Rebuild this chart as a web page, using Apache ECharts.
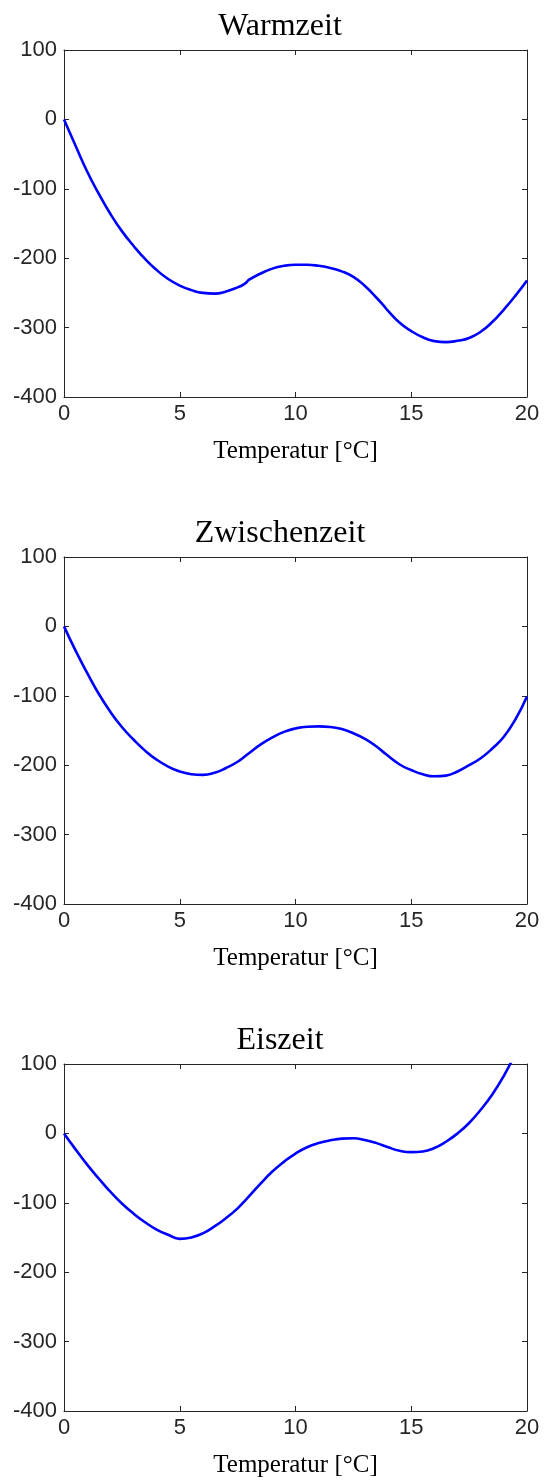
<!DOCTYPE html>
<html>
<head>
<meta charset="utf-8">
<script src="https://cdn.jsdelivr.net/npm/echarts@6/dist/echarts.min.js"></script>
<style>html,body{margin:0;padding:0;background:#fff;}#c{width:544px;height:1480px;}</style>
</head>
<body>
<div id="c"></div>
<script>
const titles = ['Warmzeit', 'Zwischenzeit', 'Eiszeit'];
const xLabel = 'Temperatur [°C]';
const xTicks = [0, 5, 10, 15, 20];
const yTicks = [-400, -300, -200, -100, 0, 100];

const tempWarm = [0,0.5,1,1.5,2,2.5,3,3.5,4,4.5,5,5.5,6,6.5,7,7.5,7.8,8,8.5,9,9.5,10,10.5,11,11.5,12,12.5,13,13.5,13.8,14,14.5,15,15.5,16,16.5,17,17.5,18,18.5,19,19.5,20];
const warm = [0,-38,-75,-107,-136,-161,-182,-201,-217,-230,-239.5,-246,-250,-251,-248,-242,-237,-231,-222,-215,-211,-209.5,-209.5,-211,-214,-219,-227,-240,-257,-268,-276,-293,-305,-314,-319.5,-321,-319,-315,-306,-292,-274,-254,-232];

const tempZwischen = [0,0.5,1,1.5,2,2.5,3,3.5,4,4.5,5,5.5,6,6.5,7,7.5,7.9,8.5,9,9.5,10,10.5,11,11.5,12,12.5,13,13.5,13.9,14.5,15,15.5,16,16.5,17,17.5,18,18.5,19,19.5,20];
const zwischen = [0,-35,-67,-97,-123,-145,-163,-179,-192,-202,-209,-213,-214,-211,-204,-195,-185,-170,-160,-152,-147,-144.5,-144,-145,-148,-154,-162,-173,-184,-199,-207,-213,-216,-215,-209,-200,-190,-176,-159,-134,-101];

const tempEis = [0,0.5,1,1.5,2,2.5,3,3.5,4,4.5,5,5.5,6,6.5,7,7.5,7.9,8.5,9,9.5,10,10.5,11,11.5,12,12.5,13,13.5,14,14.5,15,15.5,16,16.5,17,17.5,18,18.5,19,19.5,20];
const eis = [0,-23,-45,-65,-84,-101,-115.5,-128,-138.5,-146,-152,-150,-144,-134,-122,-108,-94,-72,-55,-41,-29,-20,-14,-10,-7.5,-7,-9.5,-14,-20,-25,-27,-26,-21,-12,0,15,34,56,83,115,148];

const temps = [tempWarm, tempZwischen, tempEis];
const vals = [warm, zwischen, eis];

const tops = [50, 557, 1064];
const gridH = 347;
const axisColor = '#262626';
const sansFont = '"Liberation Sans", Arial, Helvetica, sans-serif';
const serifFont = '"Liberation Serif", "Times New Roman", serif';

const grids = [], xAxes = [], yAxes = [], series = [], titleOpts = [];
tops.forEach((t, i) => {
  grids.push({left: 64, top: t, width: 463, height: gridH, show: false});
  titleOpts.push({
    text: titles[i], left: 275, top: t - 44, textAlign: 'center',
    textStyle: {fontFamily: serifFont, fontSize: 32, fontWeight: 'normal', color: '#000'}
  });
  const baseX = {
    type: 'value', gridIndex: i, min: xTicks[0], max: xTicks[xTicks.length-1], interval: 5,
    axisLine: {show: true, onZero: false, lineStyle: {color: axisColor, width: 1}},
    axisTick: {show: true, inside: true, length: 5, lineStyle: {color: axisColor}},
    splitLine: {show: false}
  };
  xAxes.push(Object.assign({}, baseX, {
    position: 'bottom',
    axisLabel: {show: true, color: axisColor, fontFamily: sansFont, fontSize: 22, margin: 6},
    name: xLabel, nameLocation: 'middle', nameGap: 42,
    nameTextStyle: {fontFamily: serifFont, fontSize: 25, color: '#000'}
  }));
  xAxes.push(Object.assign({}, baseX, {position: 'top', axisLabel: {show: false}}));
  const baseY = {
    type: 'value', gridIndex: i, min: yTicks[0], max: yTicks[yTicks.length-1], interval: 100,
    axisLine: {show: true, onZero: false, lineStyle: {color: axisColor, width: 1}},
    axisTick: {show: true, inside: true, length: 5, lineStyle: {color: axisColor}},
    splitLine: {show: false}
  };
  yAxes.push(Object.assign({}, baseY, {
    position: 'left',
    axisLabel: {show: true, color: axisColor, fontFamily: sansFont, fontSize: 22, margin: 7}
  }));
  yAxes.push(Object.assign({}, baseY, {position: 'right', axisLabel: {show: false}}));
  series.push({
    type: 'line', xAxisIndex: 2*i, yAxisIndex: 2*i,
    data: temps[i].map((x, k) => [x, vals[i][k]]),
    showSymbol: false, smooth: 0.5, clip: true,
    lineStyle: {color: '#0000ff', width: 2.6}, animation: false
  });
});

const chart = echarts.init(document.getElementById('c'), null, {renderer: 'canvas'});
chart.setOption({
  animation: false,
  backgroundColor: '#ffffff',
  title: titleOpts,
  grid: grids,
  xAxis: xAxes,
  yAxis: yAxes,
  series: series
});
</script>
</body>
</html>
